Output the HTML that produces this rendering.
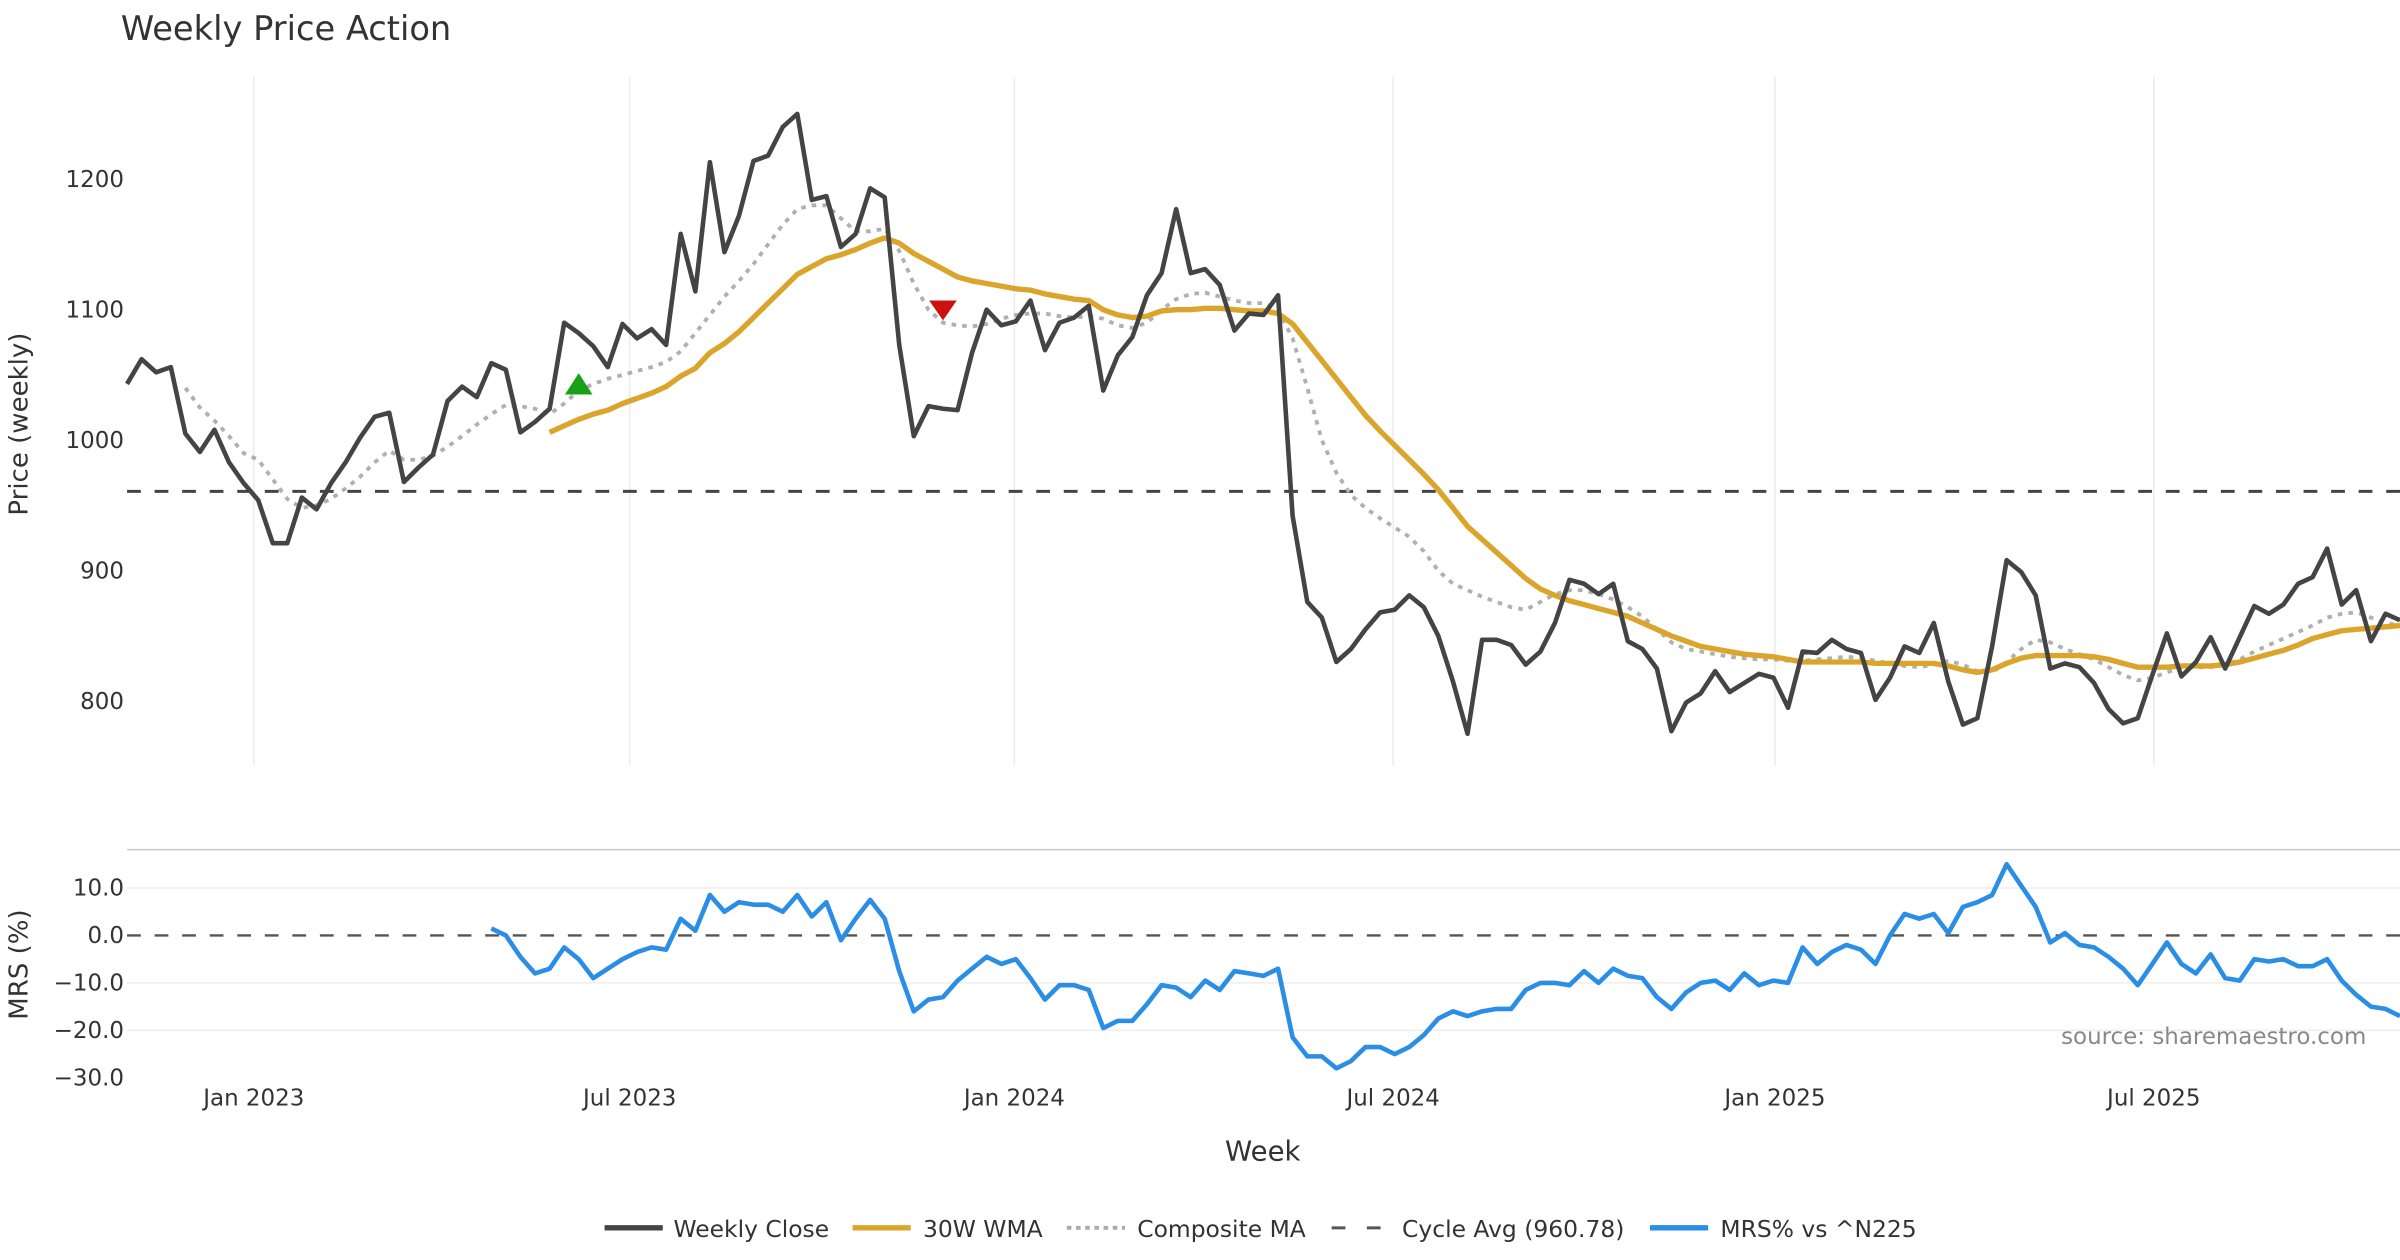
<!DOCTYPE html>
<html><head><meta charset="utf-8"><style>
html,body{margin:0;padding:0;background:#fff;}
svg{display:block;font-family:"DejaVu Sans","Liberation Sans",sans-serif;}
</style></head><body>
<svg id="chart" width="2400" height="1260" viewBox="0 0 1568 823" preserveAspectRatio="none" xmlns="http://www.w3.org/2000/svg">
<text x="79" y="26" font-size="22" fill="#333">Weekly Price Action</text>
<g id="grid"></g>
<g id="main"></g>
<g id="lower"></g>
<text x="18" y="277" font-size="17" fill="#333" text-anchor="middle" transform="rotate(-90 18 277)">Price (weekly)</text>
<text x="18" y="630" font-size="17" fill="#333" text-anchor="middle" transform="rotate(-90 18 630)">MRS (%)</text>
<text x="825" y="758" font-size="18" fill="#333" text-anchor="middle">Week</text>
<text x="1546" y="682" font-size="15" fill="#888" text-anchor="end">source: sharemaestro.com</text>
<g font-size="15.3" fill="#333">
<g><line x1="395" y1="802" x2="433" y2="802" stroke="#444" stroke-width="3.5"/><text x="440" y="808">Weekly Close</text></g>
<g><line x1="557" y1="802" x2="595" y2="802" stroke="#DAA52A" stroke-width="3.5"/><text x="603" y="808">30W WMA</text></g>
<g><line x1="697" y1="802" x2="735" y2="802" stroke="#aaa" stroke-width="2.5" stroke-dasharray="3,3"/><text x="743" y="808">Composite MA</text></g>
<g><line x1="870" y1="802" x2="908" y2="802" stroke="#555" stroke-width="2" stroke-dasharray="9,14"/><text x="916" y="808">Cycle Avg (960.78)</text></g>
<g><line x1="1078" y1="802" x2="1116" y2="802" stroke="#2A8DE6" stroke-width="3.5"/><text x="1124" y="808">MRS% vs ^N225</text></g>
</g>
</svg>
<script>
const closes=[1043,1062,1052,1056,1005,991,1008,983,967,954,
921,921,956,947,967,983,1002,1018,1021,968,
979,989,1030,1041,1033,1059,1054,1006,1014,1024,
1090,1082,1072,1056,1089,1078,1085,1073,1158,1114,
1213,1144,1172,1214,1218,1240,1250,1184,1187,1148,
1158,1193,1186,1073,1003,1026,1024,1023,1067,1100,
1088,1091,1107,1069,1090,1094,1103,1038,1065,1079,
1111,1128,1177,1128,1131,1119,1084,1097,1096,1111,
942,876,864,830,840,855,868,870,881,872,
850,815,775,847,847,843,828,838,860,893,
890,882,890,846,840,825,777,799,806,823,
807,814,821,818,795,838,837,847,840,837,
801,818,842,837,860,815,782,787,842,908,
899,881,825,829,826,814,794,783,787,820,
852,819,830,849,825,849,873,867,874,890,
895,917,874,885,846,867,862];
const wmaStart=29;
const wma=[1006,1011,1016,1020,1023,1028,1032,1036,1041,1049,1055,1067,1074,1083,1094,1105,1116,1127,1133,1139,1142,1146,1151,1155,1151,1143,1137,1131,1125,1122,1120,1118,1116,1115,1112,1110,1108,1107,1100,1096,1094,1095,1099,1100,1100,1101,1101,1100,1099,1099,1097,1089,1075,1061,1047,1033,1019,1007,996,985,974,962,948,934,924,914,904,894,886,881,877,874,871,868,865,860,855,850,846,842,840,838,836,835,834,832,830,830,830,830,830,829,829,829,829,829,827,824,822,824,829,833,835,835,835,835,834,832,829,826,826,826,827,827,827,828,830,833,836,839,843,848,851,854,855,856,857,858];
const compStart=4;
const comp=[1040,1025,1015,1003,990,985,970,955,948,950,955,963,972,983,992,985,985,988,995,1003,1012,1020,1027,1026,1024,1020,1028,1038,1043,1047,1050,1053,1056,1060,1068,1082,1096,1110,1122,1135,1150,1165,1177,1180,1180,1170,1160,1160,1162,1145,1120,1100,1090,1088,1087,1089,1093,1096,1097,1097,1095,1094,1095,1093,1088,1086,1090,1100,1108,1112,1113,1110,1107,1105,1105,1100,1078,1040,1000,975,958,948,940,933,926,915,900,890,885,880,876,872,870,876,882,885,885,882,878,872,865,855,845,840,838,836,834,833,832,832,831,831,832,833,834,833,831,829,827,826,828,831,828,823,822,830,840,847,845,840,836,832,826,820,816,818,822,826,826,826,828,832,838,843,848,853,858,864,867,868,864,860,858];
const mrs=[1.5,0,-4.5,-8,-7,-2.5,-5,-9,-7,-5,-3.5,-2.5,-3,3.5,1,8.5,5,7,6.5,6.5,5,8.5,4,7,-1,3.5,7.5,3.5,-7.5,-16,-13.5,-13,-9.5,-7,-4.5,-6,-5,-9,-13.5,-10.5,-10.5,-11.5,-19.5,-18,-18,-14.5,-10.5,-11,-13,-9.5,-11.5,-7.5,-8,-8.5,-7,-21.5,-25.5,-25.5,-28,-26.5,-23.5,-23.5,-25,-23.5,-21,-17.5,-16,-17,-16,-15.5,-15.5,-11.5,-10,-10,-10.5,-7.5,-10,-7,-8.5,-9,-13,-15.5,-12,-10,-9.5,-11.5,-8,-10.5,-9.5,-10,-2.5,-6,-3.5,-2,-3,-6,0,4.5,3.5,4.5,0.5,6,7,8.5,15,10.5,6,-1.5,0.5,-2,-2.5,-4.5,-7,-10.5,-6,-1.5,-6,-8,-4,-9,-9.5,-5,-5.5,-5,-6.5,-6.5,-5,-9.5,-12.5,-15,-15.5,-17];
const priceTicks=[800,900,1000,1100,1200];
const mrsTicks=[10,0,-10,-20,-30];
const xTickLabels=["Jan 2023","Jul 2023","Jan 2024","Jul 2024","Jan 2025","Jul 2025"];
const xTickIdx=[8.7,34.5,60.9,86.9,113.1,139.1];
const cycleAvg=960.78;
const buySignalIdx=31, buySignalVal=1042;
const sellSignalIdx=56, sellSignalVal=1100;

const NS="http://www.w3.org/2000/svg";
const X0=83,X1=1568,N=closes.length;
const xs=i=>X0+i*(X1-X0)/(N-1);
const yp=v=>117+(1200-v)*0.8525;
const ym=v=>611-v*3.1;
function mk(tag,attrs,parent){const e=document.createElementNS(NS,tag);for(const k in attrs)e.setAttribute(k,attrs[k]);parent.appendChild(e);return e;}
const grid=document.getElementById('grid'),main=document.getElementById('main'),lower=document.getElementById('lower');
xTickIdx.forEach((ix,k)=>{
  const g=mk('line',{x1:xs(ix),x2:xs(ix),y1:50,y2:500,stroke:'#ececec','stroke-width':1},grid);
  
  
  const t=mk('text',{x:xs(ix),y:722,'font-size':15,fill:'#333','text-anchor':'middle'},grid);
  t.textContent=xTickLabels[k];
  
  
});
priceTicks.forEach(v=>{
  const t=mk('text',{x:81,y:yp(v)+5,'font-size':15,fill:'#333','text-anchor':'end'},grid);
  t.textContent=v;
  
  
});
const cl=mk('line',{x1:X0,x2:X1,y1:yp(cycleAvg),y2:yp(cycleAvg),stroke:'#444','stroke-width':2,'stroke-dasharray':'9,9'},main);


function path(arr,start,yf,attrs,parent){let d='';arr.forEach((v,i)=>{d+=(i?'L':'M')+xs(start+i).toFixed(1)+','+yf(v).toFixed(1);});attrs.d=d;attrs.fill='none';return mk('path',attrs,parent);}
const pc=path(comp,compStart,yp,{stroke:'#b0b0b0','stroke-width':2.5,'stroke-dasharray':'3,4'},main);


const pw=path(wma,wmaStart,yp,{stroke:'#DAA52A','stroke-width':3.5,'stroke-linejoin':'round'},main);


const pcl=path(closes,0,yp,{stroke:'#444','stroke-width':3,'stroke-linejoin':'round'},main);


const bx=xs(buySignalIdx),by=yp(buySignalVal);
const tb=mk('polygon',{points:`${bx-9},${by+6} ${bx+9},${by+6} ${bx},${by-8}`,fill:'#18a018'},main);


const sx=xs(sellSignalIdx),sy=yp(sellSignalVal);
const ts=mk('polygon',{points:`${sx-9},${sy-6} ${sx+9},${sy-6} ${sx},${sy+7}`,fill:'#cc1111'},main);


const bl=mk('line',{x1:X0,x2:X1,y1:555,y2:555,stroke:'#ccc','stroke-width':1},lower);


mrsTicks.forEach(v=>{
  if(v!==0&&v!==-30){const gl=mk('line',{x1:X0,x2:X1,y1:ym(v),y2:ym(v),stroke:'#eee','stroke-width':1},lower);
  
  }
  const t=mk('text',{x:81,y:ym(v)+5,'font-size':15,fill:'#333','text-anchor':'end'},lower);
  t.textContent=(v<0?'\u2212'+Math.abs(v).toFixed(1):v.toFixed(1));
  
  
});
const zl=mk('line',{x1:X0,x2:X1,y1:ym(0),y2:ym(0),stroke:'#555','stroke-width':1.5,'stroke-dasharray':'9,9'},lower);


const pm=path(mrs,N-mrs.length,ym,{stroke:'#2A8DE6','stroke-width':3,'stroke-linejoin':'round'},lower);


</script>
</body></html>
